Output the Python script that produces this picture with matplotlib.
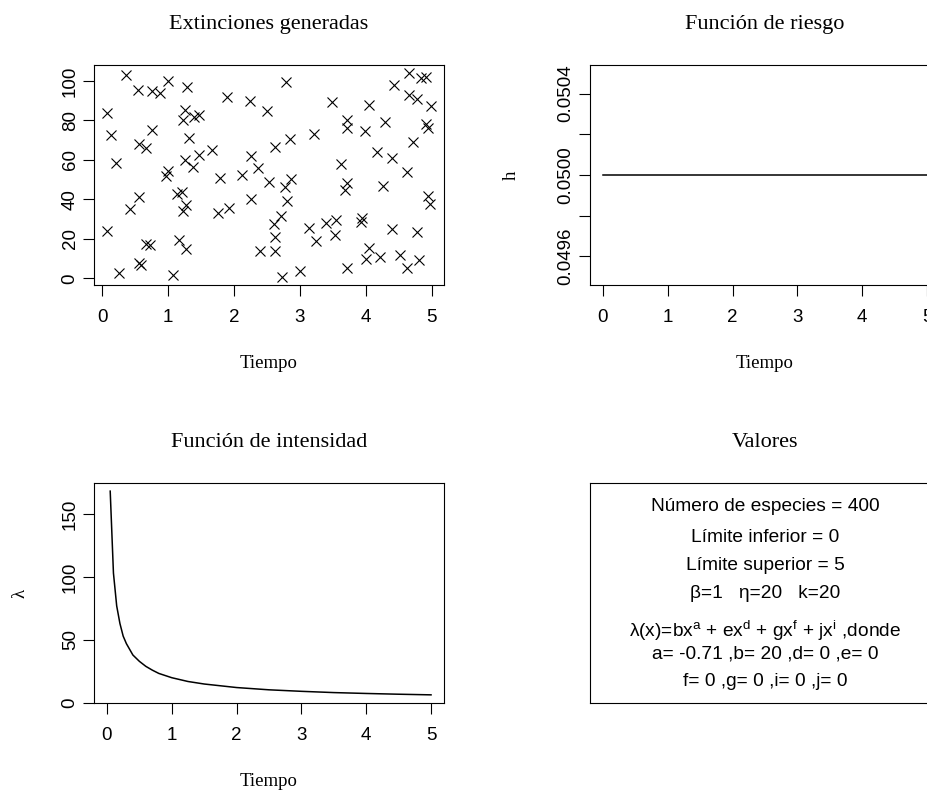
import matplotlib
matplotlib.use('Agg')
import matplotlib.pyplot as plt

plt.rcParams['font.family'] = ['Liberation Sans', 'DejaVu Sans']
plt.rcParams['mathtext.default'] = 'regular'
SERIF = ['Liberation Serif', 'DejaVu Serif']

# extinciones generadas (tiempo, valor)
ext_t = [0.36, 1.00, 1.28, 0.54, 0.76, 0.88, 1.89, 2.24, 2.50,
         0.07, 1.25, 1.22, 1.39, 1.46,
         0.13, 0.76, 1.31, 0.55, 0.66,
         0.20, 1.26, 1.46, 1.67, 1.37, 2.26, 2.37, 2.12, 1.79, 1.00, 0.97,
         0.55, 0.42, 1.13, 1.21, 1.27, 1.22, 1.76, 1.92, 2.26,
         0.07, 0.67, 0.73, 1.17, 1.27, 2.40,
         0.55, 0.58, 0.25, 1.08,
         2.79, 4.65, 4.84, 4.92, 4.43, 4.65, 4.77, 4.99, 3.49, 4.05,
         3.72, 3.72, 4.29, 3.99, 4.91, 4.95, 3.21, 2.85, 2.62, 4.72,
         4.17, 4.39, 3.62, 4.63, 2.53, 2.86, 2.77, 3.72, 3.69, 4.26,
         2.80, 4.94, 4.97, 2.71, 2.61, 2.62, 2.62, 3.13, 3.24, 3.39,
         3.55, 3.53, 3.94, 3.93, 4.39, 4.78, 4.05, 4.00, 4.22, 4.52,
         4.63, 4.81, 3.72, 3.00, 2.73]
ext_y = [103.2, 100.0, 97.1, 95.6, 94.8, 93.8, 91.6, 89.6, 84.6,
         83.8, 85.4, 80.4, 81.7, 82.9,
         72.4, 74.9, 70.9, 67.8, 66.2,
         58.6, 60.0, 62.5, 64.8, 56.6, 62.0, 56.1, 52.3, 50.8, 54.4, 51.9,
         41.0, 35.2, 42.7, 43.9, 37.3, 34.0, 33.2, 35.8, 40.2,
         23.8, 17.2, 17.1, 19.6, 14.7, 13.7,
         8.0, 6.7, 2.9, 1.7,
         99.2, 103.9, 101.3, 101.8, 98.0, 93.0, 91.0, 87.1, 89.1, 87.6,
         80.4, 76.2, 79.1, 74.5, 78.2, 76.2, 72.9, 70.4, 66.7, 69.0,
         64.0, 60.8, 58.1, 53.9, 48.6, 50.3, 46.4, 48.1, 44.7, 46.9,
         39.0, 41.9, 37.7, 31.8, 27.6, 21.0, 13.7, 25.5, 18.7, 28.0,
         29.6, 21.8, 30.5, 28.8, 24.8, 23.5, 15.4, 10.0, 10.9, 11.7,
         5.5, 9.2, 5.4, 3.9, 0.8]

# funcion de riesgo
riesgo_t = [0, 5]
riesgo_h = [0.05, 0.05]
riesgo_ticks = [0.0496, 0.0498, 0.0500, 0.0502, 0.0504]
riesgo_labels = ['0.0496', '', '0.0500', '', '0.0504']

# funcion de intensidad
inten_t = [0.05, 0.1, 0.15, 0.2, 0.25, 0.3, 0.4, 0.5, 0.6, 0.7, 0.8, 1.0,
           1.25, 1.5, 2.0, 2.5, 3.0, 3.5, 4.0, 4.5, 5.0]
inten_l = [168, 103, 77, 63, 53, 47, 38, 33, 29, 26, 23.4, 20,
           17, 15, 12.2, 10.4, 9.2, 8.2, 7.5, 6.9, 6.4]

valores = ['Número de especies = 400',
           'Límite inferior = 0',
           'Límite superior = 5',
           'β=1   η=20   k=20',
           'λ(x)=bx$^{a}$ + ex$^{d}$ + gx$^{f}$ + jx$^{i}$ ,donde',
           'a= -0.71 ,b= 20 ,d= 0 ,e= 0',
           'f= 0 ,g= 0 ,i= 0 ,j= 0']
valores_base = [510.7, 541.7, 570, 598.3, 636.7, 658.3, 686.7]


def rlim(v):
    lo, hi = min(v), max(v)
    d = 0.04 * (hi - lo)
    return lo - d, hi + d


W, H = 928, 791
fig = plt.figure(figsize=(W / 100, H / 100), dpi=100)


def box(x0, y0, x1, y1):
    return fig.add_axes([x0 / W, 1 - y1 / H, (x1 - x0) / W, (y1 - y0) / H])


def style(ax, title, xlab=None, ylab=None, ylab_x=-0.22):
    for s in ax.spines.values():
        s.set_linewidth(0.8)
        s.set_color('black')
    ax.tick_params(direction='out', length=8, width=0.8, labelsize=13.5)
    ax.tick_params(axis='x', pad=9)
    ax.tick_params(axis='y', pad=3)
    ax.set_title(title, family=SERIF, fontsize=16, y=1.185, va='center', pad=0)
    if xlab:
        ax.text(0.5, -0.359, xlab, transform=ax.transAxes, ha='center',
                va='center', family=SERIF, fontsize=13.5)
    if ylab:
        ax.text(ylab_x, 0.5, ylab, transform=ax.transAxes, ha='center',
                va='center', rotation=90, family=SERIF, fontsize=13.5)


ax1 = box(94, 65, 444, 285)
ax2 = box(590, 65, 940, 285)
ax3 = box(94, 483, 444, 703)
ax4 = box(590, 483, 940, 703)

# Extinciones generadas
ax1.plot(ext_t, ext_y, linestyle='none', marker='x', ms=7, mew=0.8, color='black')
ax1.set_xlim(rlim(ext_t))
ax1.set_ylim(rlim(ext_y))
ax1.set_xticks(range(6))
ax1.set_yticks(range(0, 101, 20))
ax1.set_yticklabels([str(v) for v in range(0, 101, 20)], rotation=90, va='center')
style(ax1, 'Extinciones generadas', 'Tiempo')

# Funcion de riesgo
ax2.plot(riesgo_t, riesgo_h, color='black', lw=1.1)
ax2.set_xlim(rlim(riesgo_t))
ax2.set_ylim(0.04946, 0.05054)
ax2.set_xticks(range(6))
ax2.set_yticks(riesgo_ticks)
ax2.set_yticklabels(riesgo_labels, rotation=90, va='center')
style(ax2, 'Función de riesgo', 'Tiempo', 'h', ylab_x=-0.224)

# Funcion de intensidad
ax3.plot(inten_t, inten_l, color='black', lw=1.1)
ax3.set_xlim(rlim([0] + inten_t))
ax3.set_ylim(rlim(inten_l))
ax3.set_xticks(range(6))
ax3.set_yticks([0, 50, 100, 150])
ax3.set_yticklabels(['0', '50', '100', '150'], rotation=90, va='center')
style(ax3, 'Función de intensidad', 'Tiempo', 'λ', ylab_x=-0.211)

# Valores
ax4.set_xticks([])
ax4.set_yticks([])
style(ax4, 'Valores')
for txt, b in zip(valores, valores_base):
    ax4.text(0.5, (703.3 - b) / 220.6, txt, transform=ax4.transAxes,
             ha='center', va='baseline', fontsize=13.8)

fig.savefig('out.png', dpi=100)
